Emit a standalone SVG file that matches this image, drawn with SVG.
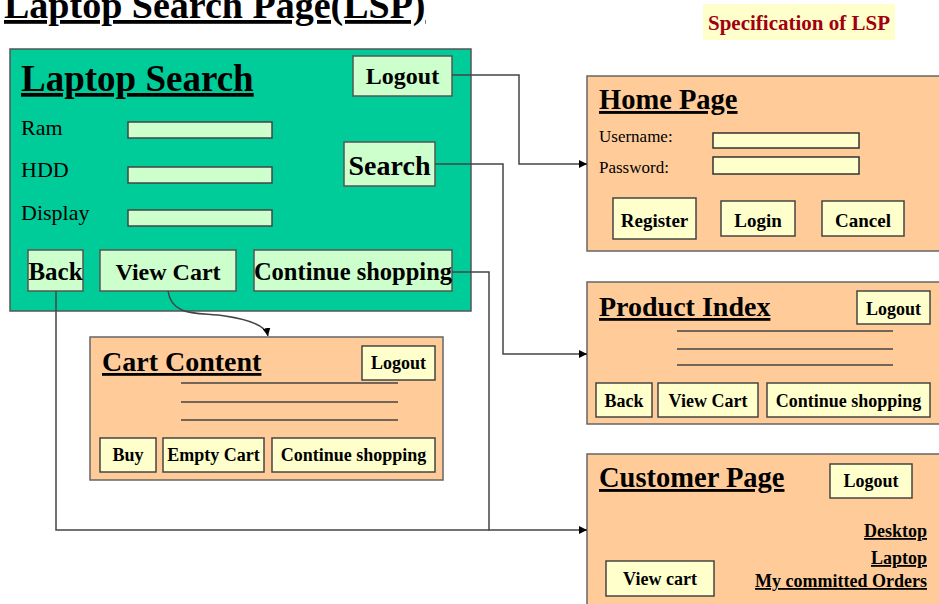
<svg xmlns="http://www.w3.org/2000/svg" width="939" height="604" viewBox="0 0 939 604">
<style>
text{font-family:"Liberation Serif","Times New Roman",serif;fill:#000}
.b{font-weight:bold}
.u{text-decoration:underline}
.c{text-anchor:middle}
.r{text-anchor:end}
.green{fill:#00CC99;stroke:#555;stroke-width:1.5}
.peach{fill:#FFCC99;stroke:#666;stroke-width:1.5}
.gbtn{fill:#CCFFCC;stroke:#555;stroke-width:1.5}
.ybtn{fill:#FFFFCC;stroke:#444;stroke-width:1.5}
.field{fill:#FFFFCC;stroke:#333;stroke-width:1.5}
.gfield{fill:#CCFFCC;stroke:#444;stroke-width:1.5}
.rule{stroke:#444;stroke-width:1.5}
.conn{fill:none;stroke:#444;stroke-width:1.5}
</style>
<defs>
<marker id="arr" viewBox="0 0 10 10" refX="10" refY="5" markerWidth="8" markerHeight="8" markerUnits="userSpaceOnUse" orient="auto">
<path d="M0,0 L10,5 L0,10 z" fill="#000"/>
</marker>
</defs>
<rect width="939" height="604" fill="#fff"/>

<g id="title">
<text x="4" y="18" class="b u" font-size="38">Laptop Search Page(LSP)</text>
</g>

<g id="spec">
<rect x="703" y="4" width="192" height="36" fill="#FFFFCC"/>
<text x="799" y="30" class="b c" font-size="21" style="fill:#A00010">Specification of LSP</text>
</g>

<g id="laptop-search">
<rect x="10" y="49" width="461" height="262" class="green"/>
<text x="21" y="91" class="b u" font-size="37">Laptop Search</text>
<rect x="353" y="56" width="99" height="40" class="gbtn"/>
<text x="402.5" y="84" class="b c" font-size="24">Logout</text>
<text x="21" y="135" font-size="22">Ram</text>
<text x="21" y="177" font-size="22">HDD</text>
<text x="21" y="220" font-size="22">Display</text>
<rect x="128" y="122" width="144" height="16" class="gfield"/>
<rect x="128" y="167" width="144" height="16" class="gfield"/>
<rect x="128" y="210" width="144" height="16" class="gfield"/>
<rect x="344" y="142" width="91" height="44" class="gbtn"/>
<text x="389.5" y="175" class="b c" font-size="28">Search</text>
<rect x="28" y="250" width="55" height="41" class="gbtn"/>
<text x="55.5" y="280" class="b c" font-size="25">Back</text>
<rect x="100" y="250" width="136" height="41" class="gbtn"/>
<text x="168" y="280" class="b c" font-size="24">View Cart</text>
<rect x="254" y="250" width="198" height="41" class="gbtn"/>
<text x="353" y="280" class="b c" font-size="24.5">Continue shopping</text>
</g>

<g id="home-page">
<rect x="587" y="76" width="360" height="175" class="peach"/>
<text x="599" y="109" class="b u" font-size="28.5">Home Page</text>
<text x="599" y="142" font-size="17">Username:</text>
<text x="599" y="173" font-size="17">Password:</text>
<rect x="713" y="133" width="146" height="15" class="field"/>
<rect x="713" y="157" width="146" height="17" class="field"/>
<rect x="613" y="198" width="83" height="41" class="ybtn"/>
<text x="654.5" y="227" class="b c" font-size="19">Register</text>
<rect x="721" y="201" width="74" height="35" class="ybtn"/>
<text x="758" y="227" class="b c" font-size="19">Login</text>
<rect x="822" y="201" width="82" height="35" class="ybtn"/>
<text x="863" y="227" class="b c" font-size="19">Cancel</text>
</g>

<g id="product-index">
<rect x="587" y="282" width="360" height="142" class="peach"/>
<text x="599" y="316" class="b u" font-size="28">Product Index</text>
<rect x="857" y="291" width="73" height="33" class="ybtn"/>
<text x="893.5" y="315" class="b c" font-size="18">Logout</text>
<line x1="677" y1="331" x2="893" y2="331" class="rule"/>
<line x1="677" y1="349" x2="893" y2="349" class="rule"/>
<line x1="677" y1="365" x2="893" y2="365" class="rule"/>
<rect x="596" y="383" width="56" height="34" class="ybtn"/>
<text x="624" y="407" class="b c" font-size="18">Back</text>
<rect x="658" y="383" width="100" height="34" class="ybtn"/>
<text x="708" y="407" class="b c" font-size="18">View Cart</text>
<rect x="767" y="383" width="163" height="34" class="ybtn"/>
<text x="848.5" y="407" class="b c" font-size="18">Continue shopping</text>
</g>

<g id="customer-page">
<rect x="587" y="454" width="360" height="160" class="peach"/>
<text x="599" y="487" class="b u" font-size="28.5">Customer Page</text>
<rect x="830" y="464" width="82" height="34" class="ybtn"/>
<text x="871" y="487" class="b c" font-size="18">Logout</text>
<text x="927" y="537" class="b u r" font-size="18">Desktop</text>
<text x="927" y="564" class="b u r" font-size="18">Laptop</text>
<text x="927" y="587" class="b u r" font-size="18">My committed Orders</text>
<rect x="606" y="561" width="108" height="35" class="ybtn"/>
<text x="660" y="585" class="b c" font-size="18">View cart</text>
</g>

<g id="cart-content">
<rect x="90" y="337" width="353" height="143" class="peach"/>
<text x="102" y="371" class="b u" font-size="28">Cart Content</text>
<rect x="362" y="346" width="73" height="34" class="ybtn"/>
<text x="398.5" y="369" class="b c" font-size="18">Logout</text>
<line x1="181" y1="383" x2="398" y2="383" class="rule"/>
<line x1="181" y1="402" x2="398" y2="402" class="rule"/>
<line x1="181" y1="420" x2="398" y2="420" class="rule"/>
<rect x="100" y="438" width="56" height="34" class="ybtn"/>
<text x="128" y="461" class="b c" font-size="18">Buy</text>
<rect x="163" y="438" width="101" height="34" class="ybtn"/>
<text x="213.5" y="461" class="b c" font-size="18">Empty Cart</text>
<rect x="272" y="438" width="163" height="34" class="ybtn"/>
<text x="353.5" y="461" class="b c" font-size="18">Continue shopping</text>
</g>

<g id="connectors">
<polyline points="452,75 519,75 519,164 587,164" class="conn" marker-end="url(#arr)"/>
<polyline points="435,164 503,164 503,354 587,354" class="conn" marker-end="url(#arr)"/>
<polyline points="452,272 489,272 489,530 587,530" class="conn" marker-end="url(#arr)"/>
<polyline points="56,291 56,530 489,530" class="conn"/>
<path d="M168,291 C172,318 200,312 225,316 C252,320 266,326 268,336" class="conn" marker-end="url(#arr)"/>
</g>
</svg>
